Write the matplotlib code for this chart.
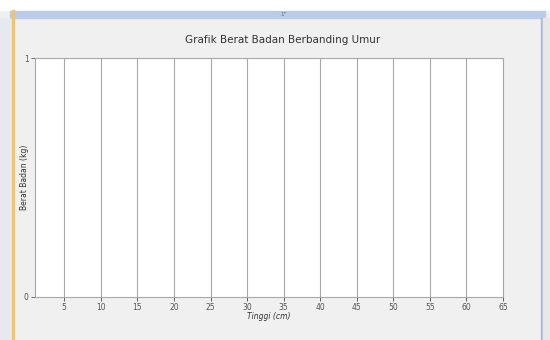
import matplotlib.pyplot as plt
from matplotlib.patches import Rectangle

TITLE = "Grafik Berat Badan Berbanding Umur"
X_LABEL = "Tinggi (cm)"
Y_LABEL = "Berat Badan (kg)"
X_MIN, X_MAX = 1, 65
Y_MIN, Y_MAX = 0, 1
X_TICKS = [5, 10, 15, 20, 25, 30, 35, 40, 45, 50, 55, 60, 65]
Y_TICKS = [0, 1]

# empty series (chart has no data plotted yet)
TINGGI = []
BERAT = []

GRID = "#a8a8a8"
PANEL = "#f0f0f0"


def draw_window(fig):
    # designer window chrome around the chart
    fig.patches.append(Rectangle((0, 0), 1, 1, transform=fig.transFigure,
                                 color=PANEL, zorder=-10))
    fig.patches.append(Rectangle((0, 1 - 10 / 340), 1, 10 / 340, transform=fig.transFigure,
                                 color="white", zorder=-9))
    fig.patches.append(Rectangle((10 / 550, 1 - 18 / 340), 535 / 550, 7 / 340,
                                 transform=fig.transFigure, color="#b9cdea", zorder=-8))
    fig.patches.append(Rectangle((0, 0), 10 / 550, 1 - 18 / 340, transform=fig.transFigure,
                                 color="#e6e9ee", zorder=-8))
    fig.patches.append(Rectangle((12 / 550, 0), 1.5 / 550, 1 - 10 / 340,
                                 transform=fig.transFigure, color="#f2c46a", zorder=-7))
    fig.patches.append(Rectangle((541 / 550, 0), 1 / 550, 1 - 18 / 340,
                                 transform=fig.transFigure, color="#a9bcd6", zorder=-7))
    fig.patches.append(Rectangle((543 / 550, 0), 7 / 550, 1 - 18 / 340,
                                 transform=fig.transFigure, color="#e8e8e8", zorder=-7))
    fig.text(283 / 550, 1 - 14 / 340, "1\"", fontsize=4, color="#666666",
             ha="center", va="center")


def main():
    fig = plt.figure(figsize=(5.5, 3.4), dpi=100)
    draw_window(fig)

    ax = fig.add_axes([35 / 550, 1 - 297 / 340, 468 / 550, 239 / 340])
    ax.set_facecolor("white")
    ax.plot(TINGGI, BERAT)

    ax.set_xlim(X_MIN, X_MAX)
    ax.set_ylim(Y_MIN, Y_MAX)
    ax.set_xticks(X_TICKS)
    ax.set_yticks(Y_TICKS)
    ax.grid(True, axis="x", color=GRID, linewidth=0.8)
    ax.set_axisbelow(True)

    for side in ax.spines.values():
        side.set_color(GRID)
        side.set_linewidth(0.8)
    ax.tick_params(axis="both", colors="#555555", labelsize=5.5, length=3, width=0.6,
                   pad=1.5)
    ax.tick_params(axis="x", color="#444444")

    ax.set_xlabel(X_LABEL, fontsize=5.5, style="italic", color="#333333", labelpad=0)
    ax.set_ylabel(Y_LABEL, fontsize=5.5, color="#333333")
    ax.yaxis.set_label_coords(-0.013, 0.5)
    fig.text(283 / 550, 1 - 40 / 340, TITLE, fontsize=7.5, color="#333333",
             ha="center", va="center")

    fig.savefig("out.png", dpi=100)


if __name__ == "__main__":
    main()
